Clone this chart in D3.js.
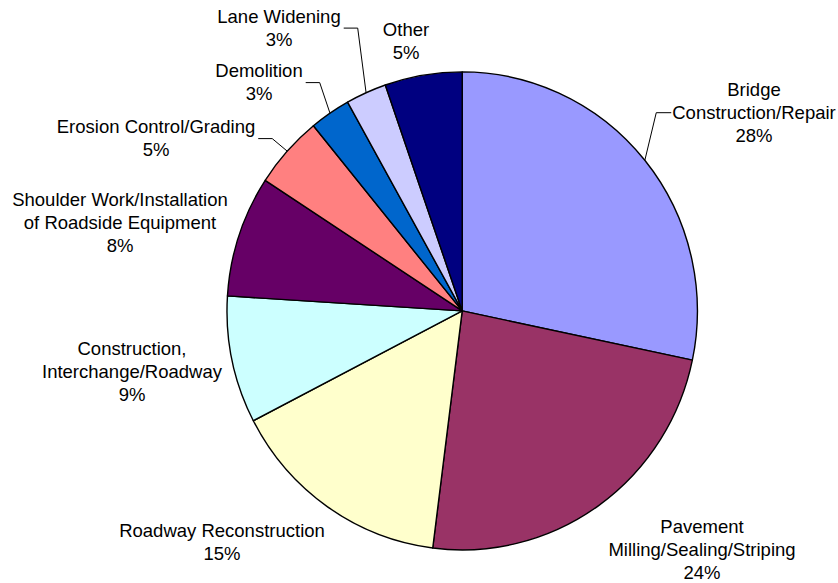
<!DOCTYPE html>
<html>
<head>
<meta charset="utf-8">
<script src="https://cdn.jsdelivr.net/npm/d3@7"></script>
<style>
  html, body { margin: 0; padding: 0; background: #ffffff; }
  svg { display: block; }
  text { font-family: "Liberation Sans", Arial, sans-serif; font-size: 18.5px; fill: #000; }
</style>
</head>
<body>
<svg id="chart" width="838" height="583"></svg>
<script>
// Work types, clockwise from 12 o'clock (label text split into lines)
const categories = [
  ["Bridge", "Construction/Repair"],
  ["Pavement", "Milling/Sealing/Striping"],
  ["Roadway Reconstruction"],
  ["Construction,", "Interchange/Roadway"],
  ["Shoulder Work/Installation", "of Roadside Equipment"],
  ["Erosion Control/Grading"],
  ["Demolition"],
  ["Lane Widening"],
  ["Other"]
];

// Share of projects, percent
const shares = [28.3, 23.7, 15.4, 8.6, 8.2, 4.9, 2.8, 2.8, 5.3];

// Slice fills
const colors = ["#9999FF", "#993366", "#FFFFCC", "#CCFFFF", "#660066",
                "#FF8080", "#0066CC", "#CCCCFF", "#000080"];

// Label placement: centre x, first baseline y, and whether a leader line is drawn
const labelLayout = [
  { x: 754, y: 96,  leader: "left",  line: 1 },
  { x: 702, y: 533, leader: null },
  { x: 222, y: 537, leader: null },
  { x: 132, y: 355, leader: null },
  { x: 120, y: 206, leader: null },
  { x: 156, y: 133, leader: "right", line: 0 },
  { x: 259, y: 77,  leader: "right", line: 0 },
  { x: 279, y: 22.5, leader: "right", line: 0 },
  { x: 406, y: 36,  leader: null }
];

const cx = 462.2, cy = 310.9, rx = 235.2, ry = 239;
const lineHeight = 23.2;

const svg = d3.select("#chart");
const total = d3.sum(shares);

const pie = d3.pie().sort(null).value(d => d)
  .startAngle(0).endAngle(2 * Math.PI);
const arcs = pie(shares);

const arc = d3.arc().innerRadius(0).outerRadius(rx);

const pieG = svg.append("g")
  .attr("transform", `translate(${cx},${cy}) scale(1,${ry / rx})`);

pieG.selectAll("path")
  .data(arcs)
  .join("path")
  .attr("d", arc)
  .attr("fill", (d, i) => colors[i])
  .attr("stroke", "#000")
  .attr("stroke-width", 1.4)
  .attr("stroke-linejoin", "round")
  .attr("vector-effect", "non-scaling-stroke");

const pct = v => d3.format(".0f")(v / total * 100) + "%";

// Point on the rim at a slice's middle angle
const rimPoint = d => {
  const a = (d.startAngle + d.endAngle) / 2;
  return [cx + rx * Math.sin(a), cy - ry * Math.cos(a)];
};

const labels = svg.append("g");

arcs.forEach((d, i) => {
  const lay = labelLayout[i];
  const lines = categories[i].concat([pct(shares[i])]);
  const t = labels.append("text")
    .attr("text-anchor", "middle");
  lines.forEach((s, k) => {
    t.append("tspan")
      .attr("x", lay.x)
      .attr("y", lay.y + k * lineHeight)
      .text(s);
  });

  if (lay.leader) {
    const ref = t.selectAll("tspan").nodes()[lay.line];
    const w = ref.getComputedTextLength();
    const blockMid = lay.y + (lines.length - 1) * lineHeight / 2 - 6;
    const ly = lay.leader === "left" ? lay.y + lay.line * lineHeight - 6.5 : blockMid;
    const x0 = lay.leader === "left" ? lay.x - w / 2 - 1 : lay.x + w / 2 + 3;
    const x1 = lay.leader === "left" ? x0 - 15 : x0 + 14;
    const [ex, ey] = rimPoint(d);
    labels.append("path")
      .attr("d", d3.line()([[x0, ly], [x1, ly], [ex, ey]]))
      .attr("fill", "none")
      .attr("stroke", "#000")
      .attr("stroke-width", 1);
  }
});
</script>
</body>
</html>
